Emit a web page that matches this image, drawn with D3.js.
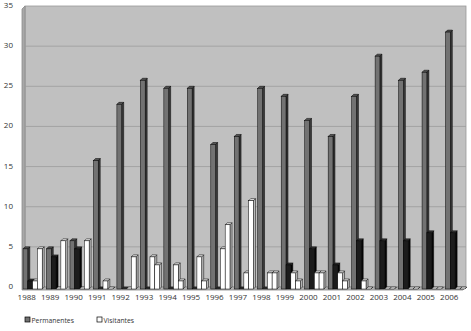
<!DOCTYPE html>
<html>
<head>
<meta charset="utf-8">
<script src="https://cdn.jsdelivr.net/npm/d3@7"></script>
<style>
  body { margin: 0; background: #fff; }
  text { font-family: "Open Sans", sans-serif; fill: #333; }
</style>
</head>
<body>
<div id="chart"></div>
<script>
var years = [1988, 1989, 1990, 1991, 1992, 1993, 1994, 1995, 1996, 1997,
             1998, 1999, 2000, 2001, 2002, 2003, 2004, 2005, 2006];
var permanentes = [5, 5, 6, 16, 23, 26, 25, 25, 18, 19, 25, 24, 21, 19, 24, 29, 26, 27, 32];
var serieNegra  = [1, 4, 5, 0, 0, 0, 0, 0, 0, 0, 0, 3, 5, 3, 6, 6, 6, 7, 7];
var visitantes  = [1, 0, 0, 1, 0, 4, 3, 4, 5, 2, 2, 2, 2, 2, 1, 0, 0, 0, 0];
var visitantes2 = [5, 6, 6, 0, 4, 3, 1, 1, 8, 11, 2, 1, 2, 1, 0, 0, 0, 0, 0];
var yTicks = [0, 5, 10, 15, 20, 25, 30, 35];
var legendLabels = ["Permanentes", "Visitantes"];

var w = 471, h = 331;
var depth = 3;          // 3d offset of the back wall
var barDepth = 2;       // 3d offset of each column

// fill colours per series: front, side, top
var styles = [
    {front: "#727272", side: "#3a3a3a", top: "#555"},
    {front: "#1c1c1c", side: "#050505", top: "#333"},
    {front: "#ffffff", side: "#bdbdbd", top: "#e8e8e8"},
    {front: "#ffffff", side: "#bdbdbd", top: "#e8e8e8"}
];
var series = [permanentes, serieNegra, visitantes, visitantes2];

var svg = d3.select("#chart").append("svg")
    .attr("width", w)
    .attr("height", h);

var pLeft = 22, pRight = 463, pBottom = 290, pTop = 9;

var y = d3.scaleLinear().domain([0, 35]).range([pBottom, pTop]);
var x = d3.scaleBand().domain(years).range([19, 465]);

// back wall
svg.append("rect")
    .attr("x", pLeft + depth).attr("y", pTop - depth)
    .attr("width", pRight - pLeft).attr("height", pBottom - pTop)
    .attr("fill", "#c0c0c0")
    .attr("stroke", "#9a9a9a").attr("stroke-width", 0.8);

// left wall
svg.append("path")
    .attr("d", "M" + pLeft + "," + pTop + "L" + (pLeft + depth) + "," + (pTop - depth) +
               "L" + (pLeft + depth) + "," + (pBottom - depth) + "L" + pLeft + "," + pBottom + "Z")
    .attr("fill", "#a8a8a8").attr("stroke", "#8a8a8a").attr("stroke-width", 0.8);

// gridlines on the back wall
svg.selectAll(".grid")
    .data(yTicks.slice(1, -1))
    .enter().append("line")
    .attr("class", "grid")
    .attr("x1", pLeft + depth).attr("x2", pRight + depth)
    .attr("y1", function(d) { return y(d) - depth; })
    .attr("y2", function(d) { return y(d) - depth; })
    .attr("stroke", "#9c9c9c").attr("stroke-width", 0.8);

// floor
svg.append("path")
    .attr("d", "M" + pLeft + "," + pBottom + "L" + (pLeft + depth) + "," + (pBottom - depth) +
               "L" + (pRight + depth) + "," + (pBottom - depth) + "L" + pRight + "," + pBottom + "Z")
    .attr("fill", "#b0b0b0").attr("stroke", "#8a8a8a").attr("stroke-width", 0.8);

// y axis labels
svg.selectAll(".ylab")
    .data(yTicks)
    .enter().append("text")
    .attr("class", "ylab")
    .attr("x", 13)
    .attr("y", function(d) { return y(d) - 1; })
    .attr("text-anchor", "end")
    .attr("font-size", "8px")
    .text(function(d) { return d; });

// columns
var barW = 4.8;
var groups = svg.selectAll(".year")
    .data(years)
    .enter().append("g")
    .attr("class", "year");

groups.each(function(yr, i) {
    var g = d3.select(this);
    var x0 = x(yr) + 4;
    series.forEach(function(s, k) {
        var v = s[i];
        var bx = x0 + k * barW;
        var by = y(v) - 1;
        var b0 = pBottom - 1;
        var st = styles[k];
        // side face
        g.append("path")
            .attr("d", "M" + (bx + barW) + "," + by + "L" + (bx + barW + barDepth) + "," + (by - barDepth) +
                       "L" + (bx + barW + barDepth) + "," + (b0 - barDepth) + "L" + (bx + barW) + "," + b0 + "Z")
            .attr("fill", st.side).attr("stroke", "#000").attr("stroke-width", 0.5);
        // top face
        g.append("path")
            .attr("d", "M" + bx + "," + by + "L" + (bx + barDepth) + "," + (by - barDepth) +
                       "L" + (bx + barW + barDepth) + "," + (by - barDepth) + "L" + (bx + barW) + "," + by + "Z")
            .attr("fill", st.top).attr("stroke", "#000").attr("stroke-width", 0.5);
        // front face
        g.append("rect")
            .attr("x", bx).attr("y", by)
            .attr("width", barW).attr("height", Math.max(0, b0 - by))
            .attr("fill", st.front).attr("stroke", "#000").attr("stroke-width", 0.5);
    });
});

// year labels
svg.selectAll(".xlab")
    .data(years)
    .enter().append("text")
    .attr("class", "xlab")
    .attr("x", function(d) { return x(d) + x.bandwidth() / 2 - 4; })
    .attr("y", 300)
    .attr("text-anchor", "middle")
    .attr("font-size", "8px")
    .text(function(d) { return d; });

// legend
var legend = svg.selectAll(".legend")
    .data(legendLabels)
    .enter().append("g")
    .attr("class", "legend")
    .attr("transform", function(d, i) { return "translate(" + (25 + i * 72) + ",317)"; });

legend.append("rect")
    .attr("width", 5).attr("height", 5)
    .attr("fill", function(d, i) { return i === 0 ? "#727272" : "#fff"; })
    .attr("stroke", "#000").attr("stroke-width", 0.7);

legend.append("text")
    .attr("x", 6.5).attr("y", 5.5)
    .attr("font-size", "6.8px")
    .attr("fill", "#222")
    .text(function(d) { return d; });
</script>
</body>
</html>
